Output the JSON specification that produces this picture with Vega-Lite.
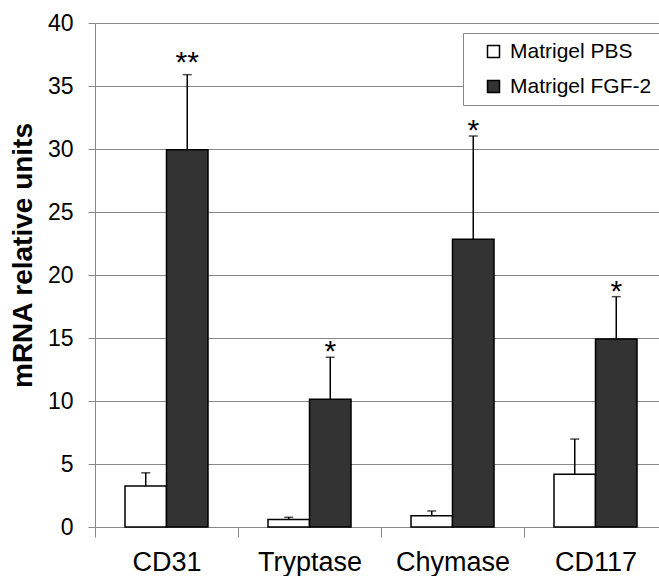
{
  "$schema": "https://vega.github.io/schema/vega-lite/v6.json",
  "width": 564,
  "height": 504,
  "autosize": {"type": "none"},
  "padding": {"left": 95, "top": 23, "right": 0, "bottom": 49},
  "background": "white",
  "config": {"view": {"stroke": null}, "font": "Liberation Sans"},
  "data": {
    "values": [
      {"gene": "CD31", "group": "Matrigel PBS", "value": 3.25, "err": 4.3, "sig": ""},
      {"gene": "CD31", "group": "Matrigel FGF-2", "value": 29.95, "err": 35.9, "sig": "**"},
      {"gene": "Tryptase", "group": "Matrigel PBS", "value": 0.6, "err": 0.77, "sig": ""},
      {"gene": "Tryptase", "group": "Matrigel FGF-2", "value": 10.13, "err": 13.47, "sig": "*"},
      {"gene": "Chymase", "group": "Matrigel PBS", "value": 0.9, "err": 1.27, "sig": ""},
      {"gene": "Chymase", "group": "Matrigel FGF-2", "value": 22.83, "err": 31.03, "sig": "*"},
      {"gene": "CD117", "group": "Matrigel PBS", "value": 4.18, "err": 6.98, "sig": ""},
      {"gene": "CD117", "group": "Matrigel FGF-2", "value": 14.92, "err": 18.28, "sig": "*"}
    ]
  },
  "encoding": {
    "x": {
      "field": "gene",
      "type": "nominal",
      "sort": ["CD31", "Tryptase", "Chymase", "CD117"],
      "scale": {"range": [0, 572], "paddingInner": 0, "paddingOuter": 0},
      "axis": {
        "title": null,
        "labelAngle": 0,
        "tickBand": "extent",
        "tickSize": 10,
        "tickColor": "#888888",
        "domainColor": "#888888",
        "labelFontSize": 27,
        "labelPadding": 12,
        "labelColor": "black",
        "grid": false
      }
    },
    "xOffset": {
      "field": "group",
      "type": "nominal",
      "sort": ["Matrigel PBS", "Matrigel FGF-2"],
      "scale": {"paddingInner": 0, "paddingOuter": 0.723}
    }
  },
  "layer": [
    {
      "mark": {"type": "bar", "stroke": "black", "strokeWidth": 1.5},
      "encoding": {
        "y": {
          "field": "value",
          "type": "quantitative",
          "scale": {"domain": [0, 40]},
          "axis": {
            "values": [0, 5, 10, 15, 20, 25, 30, 35, 40],
            "grid": true,
            "gridColor": "#888888",
            "domainColor": "#888888",
            "tickColor": "#888888",
            "tickSize": 7,
            "labelFontSize": 23,
            "labelPadding": 15,
            "labelColor": "black",
            "title": "mRNA relative units",
            "titleFontSize": 28,
            "titleFontWeight": "bold",
            "titleColor": "black",
            "titleX": -72,
            "titleY": 232,
            "titleBaseline": "middle"
          }
        },
        "color": {
          "field": "group",
          "type": "nominal",
          "scale": {"domain": ["Matrigel PBS", "Matrigel FGF-2"], "range": ["white", "#333333"]},
          "legend": {
            "orient": "none",
            "legendX": 368,
            "legendY": 10,
            "title": null,
            "labelFontSize": 21,
            "labelColor": "black",
            "symbolType": "square",
            "symbolSize": 144,
            "symbolStrokeColor": "black",
            "symbolStrokeWidth": 1.5,
            "symbolOffset": 12,
            "strokeColor": "#888888",
            "fillColor": "white",
            "padding": 8,
            "rowPadding": 13,
            "labelOffset": 6
          }
        }
      }
    },
    {
      "mark": {"type": "rule", "strokeWidth": 1.5, "color": "black"},
      "encoding": {
        "y": {"field": "value", "type": "quantitative"},
        "y2": {"field": "err"}
      }
    },
    {
      "mark": {"type": "tick", "thickness": 1.5, "size": 9, "color": "black"},
      "encoding": {
        "y": {"field": "err", "type": "quantitative"}
      }
    },
    {
      "transform": [{"filter": "datum.sig == '*'"}],
      "mark": {"type": "text", "fontSize": 30, "baseline": "alphabetic", "dy": 4, "color": "black"},
      "encoding": {
        "y": {"field": "err", "type": "quantitative"},
        "text": {"field": "sig"}
      }
    },
    {
      "transform": [{"filter": "datum.sig == '**'"}],
      "mark": {"type": "text", "fontSize": 30, "baseline": "alphabetic", "dy": -3, "color": "black"},
      "encoding": {
        "y": {"field": "err", "type": "quantitative"},
        "text": {"field": "sig"}
      }
    }
  ]
}
